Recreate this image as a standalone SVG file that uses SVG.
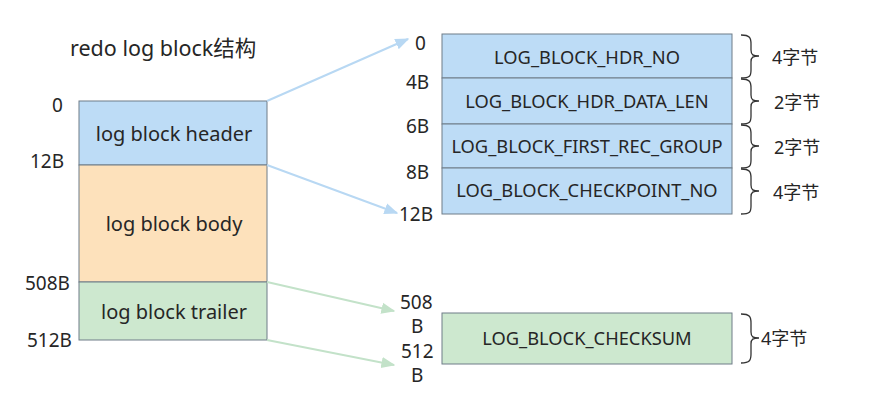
<svg xmlns="http://www.w3.org/2000/svg" width="891" height="411" viewBox="0 0 891 411">
<style>
text{font-family:"Noto Sans","Noto Sans CJK SC",sans-serif;fill:#262626}
.lbl{font-size:19px}
.bt{font-size:20px;text-anchor:middle}
.ft{font-size:18.3px;text-anchor:middle}
.cn{font-size:18px}
.box{stroke:#6f7c88;stroke-width:1}
.brace{fill:none;stroke:#333;stroke-width:1.3}
</style>
<defs>
<marker id="ab" viewBox="0 0 10 10" refX="9" refY="5" markerWidth="7" markerHeight="7" orient="auto"><path d="M0,1 L10,5 L0,9 z" fill="#b8d8f3"/></marker>
<marker id="ag" viewBox="0 0 10 10" refX="9" refY="5" markerWidth="7" markerHeight="7" orient="auto"><path d="M0,1 L10,5 L0,9 z" fill="#c3e2c9"/></marker>
</defs>
<rect width="891" height="411" fill="#fff"/>
<text x="70" y="56" style="font-size:21.5px">redo log block结构</text>
<g id="left-block">
<rect class="box" x="79" y="101" width="188" height="64" fill="#bddcf6"/>
<rect class="box" x="79" y="165" width="188" height="117" fill="#fde1bb"/>
<rect class="box" x="79" y="282" width="188" height="58" fill="#cde8cf"/>
<text class="bt" x="174" y="141">log block header</text>
<text class="bt" x="174" y="231">log block body</text>
<text class="bt" x="174" y="319">log block trailer</text>
<text class="lbl" x="52" y="112">0</text>
<text class="lbl" x="30" y="168">12B</text>
<text class="lbl" x="25" y="290">508B</text>
<text class="lbl" x="27" y="347">512B</text>
</g>
<g id="connectors">
<line x1="267" y1="101" x2="408" y2="39" stroke="#b8d8f3" stroke-width="2" marker-end="url(#ab)"/>
<line x1="267" y1="165" x2="397" y2="213" stroke="#b8d8f3" stroke-width="2" marker-end="url(#ab)"/>
<line x1="267" y1="282" x2="394" y2="311" stroke="#c3e2c9" stroke-width="2" marker-end="url(#ag)"/>
<line x1="267" y1="340" x2="394" y2="365" stroke="#c3e2c9" stroke-width="2" marker-end="url(#ag)"/>
</g>
<g id="header-fields">
<rect class="box" x="442" y="34" width="290" height="44" fill="#bddcf6"/>
<rect class="box" x="442" y="78" width="290" height="46" fill="#bddcf6"/>
<rect class="box" x="442" y="124" width="290" height="44" fill="#bddcf6"/>
<rect class="box" x="442" y="168" width="290" height="46" fill="#bddcf6"/>
<text class="ft" x="587" y="64">LOG_BLOCK_HDR_NO</text>
<text class="ft" x="587" y="108">LOG_BLOCK_HDR_DATA_LEN</text>
<text class="ft" x="587" y="153">LOG_BLOCK_FIRST_REC_GROUP</text>
<text class="ft" x="587" y="197">LOG_BLOCK_CHECKPOINT_NO</text>
<text class="lbl" x="415" y="50">0</text>
<text class="lbl" x="406" y="89">4B</text>
<text class="lbl" x="406" y="133">6B</text>
<text class="lbl" x="406" y="179">8B</text>
<text class="lbl" x="399" y="221">12B</text>
<path class="brace" d="M741,35 C750,35 751,38 751,44 L751,50 C751,55 753,56 759,56 C753,56 751,57 751,62 L751,70 C751,76 750,78 741,78"/>
<path class="brace" d="M741,79 C750,79 751,82 751,88 L751,95 C751,100 753,101 759,101 C753,101 751,102 751,107 L751,116 C751,122 750,124 741,124"/>
<path class="brace" d="M741,125 C750,125 751,128 751,134 L751,140 C751,145 753,146 759,146 C753,146 751,147 751,152 L751,160 C751,166 750,168 741,168"/>
<path class="brace" d="M741,169 C750,169 751,172 751,178 L751,185 C751,190 753,191 759,191 C753,191 751,192 751,197 L751,206 C751,212 750,214 741,214"/>
<text class="cn" x="772" y="64">4字节</text>
<text class="cn" x="774" y="109">2字节</text>
<text class="cn" x="774" y="154">2字节</text>
<text class="cn" x="773" y="199">4字节</text>
</g>
<g id="trailer-fields">
<rect class="box" x="442" y="313" width="290" height="51" fill="#cde8cf"/>
<text class="ft" x="587" y="345">LOG_BLOCK_CHECKSUM</text>
<text class="lbl" x="400" y="309">508</text>
<text class="lbl" x="411" y="333">B</text>
<text class="lbl" x="401" y="358">512</text>
<text class="lbl" x="411" y="382">B</text>
<path class="brace" d="M741,314 C750,314 751,317 751,323 L751,332 C751,337 753,338 759,338 C753,338 751,339 751,344 L751,354 C751,360 750,363 741,363"/>
<text class="cn" x="761" y="345">4字节</text>
</g>
</svg>
